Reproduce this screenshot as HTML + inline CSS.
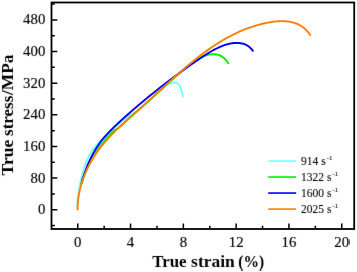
<!DOCTYPE html>
<html><head><meta charset="utf-8"><title>chart</title>
<style>html,body{margin:0;padding:0;background:#fff;overflow:hidden}body{width:357px;height:272px;position:relative;font-family:"Liberation Serif",serif}</style></head>
<body>
<svg width="357" height="272" viewBox="0 0 357 272" style="position:absolute;left:0;top:0">
<defs><filter id="bl" x="0" y="0" width="100%" height="100%" color-interpolation-filters="sRGB"><feConvolveMatrix order="3" kernelMatrix="0.0072 0.0847 0.0072 0.0847 1 0.0847 0.0072 0.0847 0.0072" divisor="1.3673" edgeMode="duplicate" preserveAlpha="false"/></filter></defs>
<rect width="357" height="272" fill="#fff"/>
<path d="M77.41 205.96 L77.43 205.57 L77.46 205.18 L77.48 204.79 L77.50 204.41 L77.52 204.02 L77.55 203.63 L77.57 203.25 L77.60 202.86 L77.63 202.47 L77.66 202.08 L77.68 201.70 L77.71 201.31 L77.74 200.92 L77.78 200.54 L77.81 200.15 L77.84 199.76 L77.88 199.37 L77.91 198.99 L77.95 198.60 L77.98 198.21 L78.02 197.83 L78.06 197.44 L78.10 197.06 L78.14 196.67 L78.18 196.28 L78.22 195.90 L78.26 195.51 L78.31 195.13 L78.35 194.74 L78.40 194.35 L78.44 193.97 L78.49 193.58 L78.54 193.20 L78.59 192.81 L78.64 192.43 L78.69 192.04 L78.74 191.66 L78.80 191.27 L78.85 190.89 L78.90 190.50 L78.96 190.12 L79.02 189.74 L79.08 189.35 L79.13 188.97 L79.19 188.59 L79.26 188.20 L79.32 187.82 L79.38 187.44 L79.45 187.05 L79.51 186.67 L79.58 186.29 L79.64 185.91 L79.71 185.52 L79.78 185.14 L79.85 184.76 L79.92 184.38 L79.99 184.00 L80.07 183.62 L80.14 183.24 L80.22 182.86 L80.30 182.48 L80.37 182.10 L80.45 181.72 L80.53 181.34 L80.61 180.96 L80.69 180.58 L80.78 180.20 L80.86 179.82 L80.95 179.44 L81.03 179.06 L81.12 178.69 L81.21 178.31 L81.30 177.93 L81.39 177.55 L81.48 177.18 L81.57 176.80 L81.67 176.42 L81.76 176.05 L81.86 175.67 L81.95 175.29 L82.05 174.92 L82.15 174.54 L82.25 174.17 L82.35 173.79 L82.46 173.42 L82.56 173.05 L82.66 172.67 L82.77 172.30 L82.88 171.93 L82.98 171.55 L83.09 171.18 L83.20 170.81 L83.32 170.43 L83.43 170.06 L83.54 169.69 L83.66 169.32 L83.77 168.95 L83.89 168.58 L84.01 168.21 L84.13 167.84 L84.25 167.47 L84.37 167.10 L84.49 166.73 L84.62 166.36 L84.74 166.00 L84.87 165.63 L85.00 165.26 L85.13 164.90 L85.26 164.53 L85.39 164.17 L85.53 163.80 L85.67 163.44 L85.81 163.08 L85.95 162.71 L86.09 162.35 L86.23 161.99 L86.38 161.63 L86.53 161.27 L86.68 160.92 L86.83 160.56 L86.98 160.20 L87.14 159.85 L87.29 159.49 L87.45 159.14 L87.62 158.79 L87.78 158.44 L87.95 158.09 L88.12 157.74 L88.29 157.39 L88.46 157.04 L88.64 156.70 L88.81 156.35 L88.99 156.01 L89.18 155.67 L89.36 155.32 L89.55 154.98 L89.74 154.65 L89.93 154.31 L90.12 153.97 L90.32 153.64 L90.52 153.30 L90.72 152.97 L90.92 152.64 L91.12 152.31 L91.33 151.98 L91.54 151.66 L91.75 151.33 L91.97 151.01 L92.18 150.68 L92.40 150.36 L92.62 150.04 L92.84 149.73 L93.07 149.41 L93.30 149.10 L93.52 148.78 L93.76 148.47 L93.99 148.16 L94.23 147.85 L94.46 147.55 L94.71 147.24 L94.95 146.94 L95.19 146.64 L95.44 146.34 L95.69 146.04 L95.94 145.75 L96.20 145.45 L96.45 145.16 L96.71 144.87 L96.97 144.58 L97.23 144.29 L97.49 144.01 L97.76 143.72 L98.03 143.44 L98.29 143.16 L98.56 142.88 L98.84 142.60 L99.11 142.32 L99.38 142.05 L99.66 141.77 L99.94 141.50 L100.21 141.23 L100.49 140.96 L100.77 140.69 L101.05 140.43 L101.34 140.16 L101.62 139.89 L101.90 139.63 L102.19 139.37 L102.47 139.10 L102.76 138.84 L103.04 138.58 L103.33 138.31 L103.61 138.05 L103.90 137.79 L104.18 137.53 L104.47 137.27 L104.76 137.00 L105.04 136.74 L105.33 136.48 L105.61 136.21 L105.89 135.95 L106.18 135.68 L106.46 135.42 L106.74 135.15 L107.03 134.89 L107.31 134.62 L107.59 134.36 L107.88 134.09 L108.16 133.83 L108.44 133.56 L108.72 133.29 L109.01 133.03 L109.29 132.76 L109.57 132.49 L109.85 132.23 L110.14 131.96 L110.42 131.69 L110.70 131.43 L110.98 131.16 L111.27 130.89 L111.55 130.63 L111.83 130.36 L112.12 130.09 L112.40 129.83 L112.68 129.56 L112.97 129.30 L113.25 129.03 L113.53 128.77 L113.82 128.50 L114.10 128.24 L114.39 127.97 L114.67 127.71 L114.96 127.45 L115.24 127.19 L115.53 126.92 L115.82 126.66 L116.10 126.40 L116.39 126.14 L116.68 125.88 L116.97 125.62 L117.26 125.36 L117.55 125.10 L117.83 124.84 L118.13 124.58 L118.42 124.33 L118.71 124.07 L119.00 123.82 L119.29 123.56 L119.58 123.31 L119.88 123.05 L120.17 122.80 L120.47 122.55 L120.76 122.30 L121.06 122.05 L121.36 121.80 L121.66 121.55 L121.95 121.30 L122.25 121.06 L122.55 120.81 L122.86 120.57 L123.16 120.32 L123.46 120.08 L123.76 119.84 L124.07 119.60 L124.37 119.36 L124.68 119.12 L124.99 118.89 L125.30 118.65 L125.61 118.42 L125.92 118.18 L126.23 117.95 L126.54 117.72 L126.85 117.49 L127.16 117.26 L127.48 117.03 L127.79 116.81 L128.11 116.58 L128.43 116.36 L128.75 116.14 L129.07 115.92 L129.39 115.70 L129.71 115.48 L130.03 115.26 L130.35 115.05 L130.68 114.83 L131.00 114.62 L131.33 114.40 L131.65 114.19 L131.98 113.98 L132.30 113.77 L132.63 113.56 L132.96 113.34 L133.28 113.13 L133.61 112.92 L133.93 112.71 L134.26 112.50 L134.58 112.28 L134.91 112.07 L135.23 111.86 L135.55 111.64 L135.88 111.42 L136.20 111.21 L136.52 110.99 L136.84 110.77 L137.15 110.55 L137.47 110.32 L137.79 110.10 L138.10 109.87 L138.41 109.64 L138.72 109.41 L139.03 109.18 L139.34 108.94 L139.65 108.70 L139.95 108.46 L140.25 108.22 L140.55 107.97 L140.85 107.72 L141.14 107.47 L141.44 107.22 L141.73 106.96 L142.02 106.71 L142.31 106.45 L142.60 106.19 L142.89 105.93 L143.18 105.67 L143.47 105.41 L143.75 105.15 L144.04 104.89 L144.33 104.63 L144.62 104.36 L144.90 104.10 L145.19 103.84 L145.48 103.58 L145.77 103.32 L146.06 103.06 L146.35 102.80 L146.63 102.54 L146.92 102.28 L147.21 102.03 L147.50 101.77 L147.79 101.51 L148.08 101.25 L148.37 100.99 L148.66 100.73 L148.95 100.47 L149.24 100.21 L149.52 99.96 L149.81 99.70 L150.10 99.44 L150.39 99.18 L150.68 98.92 L150.97 98.66 L151.26 98.40 L151.55 98.14 L151.83 97.88 L152.12 97.62 L152.41 97.36 L152.70 97.10 L152.98 96.84 L153.27 96.58 L153.56 96.31 L153.84 96.05 L154.13 95.79 L154.42 95.53 L154.70 95.26 L154.99 95.00 L155.27 94.74 L155.56 94.47 L155.84 94.21 L156.13 93.95 L156.42 93.68 L156.70 93.42 L156.99 93.16 L157.27 92.89 L157.56 92.63 L157.84 92.37 L158.13 92.11 L158.42 91.85 L158.71 91.59 L158.99 91.33 L159.28 91.07 L159.57 90.81 L159.86 90.55 L160.14 90.29 L160.43 90.03 L160.71 89.76 L161.00 89.50 L161.28 89.22 L161.56 88.95 L161.84 88.68 L162.12 88.40 L162.40 88.12 L162.69 87.85 L162.97 87.58 L163.26 87.31 L163.54 87.05 L163.84 86.79 L164.13 86.54 L164.43 86.30 L164.74 86.06 L165.04 85.84 L165.36 85.62 L165.68 85.42 L166.01 85.22 L166.34 85.03 L166.68 84.85 L167.02 84.67 L167.36 84.50 L167.71 84.33 L168.06 84.15 L168.41 83.98 L168.77 83.82 L169.13 83.66 L169.49 83.51 L169.86 83.36 L170.22 83.22 L170.59 83.09 L170.97 82.97 L171.34 82.86 L171.72 82.76 L172.09 82.68 L172.48 82.61 L172.86 82.56 L173.24 82.52 L173.63 82.50 L174.01 82.50 L174.40 82.52 L174.79 82.56 L175.17 82.61 L175.55 82.69 L175.92 82.79 L176.29 82.91 L176.65 83.05 L176.99 83.21 L177.33 83.39 L177.65 83.60 L177.96 83.83 L178.25 84.08 L178.52 84.35 L178.78 84.65 L179.02 84.96 L179.25 85.29 L179.47 85.63 L179.67 85.97 L179.86 86.32 L180.05 86.68 L180.22 87.03 L180.38 87.38 L180.54 87.73 L180.69 88.06 L180.83 88.40 L180.97 88.73 L181.11 89.07 L181.24 89.42 L181.37 89.79 L181.50 90.19 L181.63 90.61 L181.75 91.08 L181.88 91.58 L182.01 92.11 L182.13 92.66 L182.25 93.21 L182.36 93.76 L182.46 94.29 L182.56 94.79 L182.65 95.26 L182.73 95.68 L182.79 96.04 L182.84 96.32 L182.88 96.53 L182.90 96.64 L182.90 96.65 L182.88 96.55 L182.84 96.33 L182.79 96.00 L182.71 95.60 L182.63 95.12 L182.53 94.61 L182.44 94.10 L182.34 93.60 L182.26 93.16 L182.19 92.80 L182.14 92.54 L182.12 92.43 L182.14 92.49 L182.19 92.75 L182.29 93.24 L182.45 93.99" fill="none" stroke="#74ffff" stroke-width="1.9" stroke-linecap="butt" stroke-linejoin="round"/>
<path d="M81.40 183.65 L81.53 183.20 L81.67 182.74 L81.80 182.29 L81.94 181.84 L82.08 181.39 L82.22 180.94 L82.36 180.48 L82.51 180.04 L82.65 179.59 L82.80 179.14 L82.95 178.69 L83.11 178.24 L83.26 177.80 L83.42 177.35 L83.58 176.90 L83.74 176.46 L83.90 176.02 L84.06 175.57 L84.23 175.13 L84.40 174.69 L84.57 174.25 L84.74 173.81 L84.91 173.37 L85.09 172.93 L85.26 172.49 L85.44 172.05 L85.62 171.61 L85.81 171.18 L85.99 170.74 L86.18 170.31 L86.37 169.87 L86.56 169.44 L86.75 169.01 L86.94 168.58 L87.14 168.14 L87.33 167.71 L87.53 167.29 L87.73 166.86 L87.94 166.43 L88.14 166.00 L88.35 165.58 L88.55 165.15 L88.76 164.73 L88.98 164.30 L89.19 163.88 L89.40 163.46 L89.62 163.04 L89.84 162.62 L90.06 162.20 L90.28 161.78 L90.50 161.36 L90.73 160.95 L90.95 160.53 L91.18 160.12 L91.41 159.70 L91.64 159.29 L91.87 158.88 L92.11 158.47 L92.34 158.06 L92.58 157.65 L92.82 157.24 L93.06 156.84 L93.30 156.43 L93.55 156.02 L93.79 155.62 L94.04 155.22 L94.29 154.82 L94.54 154.41 L94.79 154.01 L95.04 153.62 L95.30 153.22 L95.56 152.82 L95.81 152.43 L96.07 152.03 L96.33 151.64 L96.60 151.24 L96.86 150.85 L97.13 150.46 L97.39 150.07 L97.66 149.69 L97.93 149.30 L98.20 148.91 L98.48 148.53 L98.75 148.14 L99.02 147.76 L99.30 147.38 L99.58 147.00 L99.86 146.62 L100.14 146.24 L100.42 145.87 L100.71 145.49 L100.99 145.11 L101.28 144.74 L101.57 144.37 L101.86 143.99 L102.15 143.62 L102.44 143.25 L102.74 142.88 L103.03 142.52 L103.33 142.15 L103.62 141.78 L103.92 141.42 L104.22 141.05 L104.53 140.69 L104.83 140.32 L105.13 139.96 L105.44 139.60 L105.74 139.24 L106.05 138.88 L106.36 138.52 L106.67 138.16 L106.98 137.81 L107.30 137.45 L107.61 137.09 L107.93 136.74 L108.24 136.39 L108.56 136.03 L108.88 135.68 L109.20 135.33 L109.53 134.99 L109.85 134.64 L110.18 134.30 L110.50 133.96 L110.83 133.62 L111.17 133.29 L111.50 132.95 L111.84 132.63 L112.17 132.30 L112.52 131.98 L112.87 131.67 L113.22 131.37 L113.60 131.09 L113.98 130.81 L114.37 130.55 L114.77 130.30 L115.17 130.05 L115.58 129.81 L115.99 129.57 L116.40 129.33 L116.80 129.09 L117.21 128.85 L117.61 128.60 L118.01 128.34 L118.39 128.07 L118.77 127.79 L119.14 127.49 L119.49 127.18 L119.85 126.87 L120.20 126.56 L120.55 126.24 L120.90 125.93 L121.25 125.61 L121.60 125.30 L121.95 124.98 L122.30 124.66 L122.65 124.34 L123.00 124.02 L123.35 123.70 L123.69 123.38 L124.04 123.06 L124.39 122.74 L124.73 122.42 L125.08 122.10 L125.43 121.78 L125.78 121.46 L126.13 121.14 L126.47 120.82 L126.82 120.50 L127.17 120.18 L127.52 119.86 L127.87 119.55 L128.22 119.23 L128.58 118.91 L128.93 118.60 L129.28 118.28 L129.63 117.97 L129.98 117.65 L130.34 117.34 L130.69 117.02 L131.04 116.71 L131.40 116.40 L131.75 116.08 L132.11 115.77 L132.46 115.46 L132.82 115.15 L133.17 114.84 L133.53 114.52 L133.88 114.21 L134.24 113.90 L134.59 113.59 L134.95 113.28 L135.30 112.97 L135.66 112.65 L136.01 112.34 L136.37 112.03 L136.73 111.72 L137.08 111.41 L137.44 111.10 L137.79 110.79 L138.15 110.48 L138.50 110.17 L138.86 109.85 L139.22 109.54 L139.57 109.23 L139.93 108.92 L140.28 108.61 L140.64 108.29 L140.99 107.98 L141.34 107.67 L141.70 107.36 L142.05 107.04 L142.41 106.73 L142.76 106.42 L143.11 106.10 L143.47 105.79 L143.82 105.47 L144.17 105.16 L144.52 104.85 L144.88 104.53 L145.23 104.22 L145.58 103.90 L145.93 103.59 L146.29 103.27 L146.64 102.96 L146.99 102.64 L147.34 102.32 L147.69 102.01 L148.04 101.69 L148.39 101.38 L148.75 101.06 L149.10 100.74 L149.45 100.43 L149.80 100.11 L150.15 99.79 L150.50 99.48 L150.85 99.16 L151.20 98.84 L151.55 98.52 L151.90 98.21 L152.25 97.89 L152.60 97.57 L152.95 97.25 L153.30 96.94 L153.65 96.62 L154.00 96.30 L154.35 95.98 L154.70 95.66 L155.05 95.34 L155.40 95.03 L155.74 94.71 L156.09 94.39 L156.44 94.07 L156.79 93.75 L157.14 93.43 L157.49 93.11 L157.84 92.80 L158.19 92.48 L158.54 92.16 L158.88 91.84 L159.23 91.52 L159.58 91.20 L159.93 90.88 L160.28 90.56 L160.63 90.24 L160.98 89.92 L161.32 89.60 L161.67 89.28 L162.02 88.97 L162.37 88.65 L162.72 88.33 L163.07 88.01 L163.41 87.69 L163.76 87.37 L164.11 87.05 L164.46 86.73 L164.81 86.41 L165.16 86.09 L165.50 85.77 L165.85 85.45 L166.20 85.13 L166.55 84.81 L166.90 84.50 L167.25 84.18 L167.60 83.86 L167.94 83.54 L168.29 83.22 L168.64 82.90 L168.99 82.58 L169.34 82.26 L169.69 81.94 L170.04 81.62 L170.39 81.31 L170.74 80.99 L171.08 80.67 L171.43 80.35 L171.78 80.03 L172.13 79.71 L172.48 79.40 L172.83 79.08 L173.18 78.76 L173.53 78.45 L173.89 78.13 L174.24 77.81 L174.59 77.50 L174.94 77.18 L175.29 76.87 L175.64 76.55 L176.00 76.24 L176.35 75.92 L176.70 75.61 L177.06 75.30 L177.41 74.98 L177.76 74.67 L178.12 74.36 L178.48 74.05 L178.83 73.74 L179.19 73.43 L179.54 73.12 L179.90 72.81 L180.26 72.50 L180.62 72.19 L180.98 71.88 L181.34 71.58 L181.70 71.27 L182.06 70.97 L182.42 70.66 L182.78 70.36 L183.14 70.05 L183.51 69.75 L183.87 69.45 L184.23 69.15 L184.60 68.85 L184.97 68.55 L185.33 68.25 L185.70 67.95 L186.07 67.66 L186.44 67.36 L186.81 67.07 L187.18 66.78 L187.55 66.48 L187.92 66.19 L188.30 65.90 L188.67 65.62 L189.05 65.33 L189.42 65.04 L189.80 64.76 L190.18 64.48 L190.56 64.20 L190.94 63.92 L191.32 63.64 L191.70 63.36 L192.09 63.09 L192.47 62.81 L192.86 62.54 L193.25 62.27 L193.64 62.00 L194.03 61.74 L194.42 61.47 L194.81 61.21 L195.21 60.95 L195.60 60.69 L196.00 60.43 L196.40 60.18 L196.80 59.92 L197.20 59.67 L197.60 59.42 L198.00 59.18 L198.41 58.94 L198.82 58.70 L199.23 58.46 L199.64 58.23 L200.05 58.00 L200.46 57.77 L200.88 57.55 L201.30 57.33 L201.72 57.12 L202.15 56.91 L202.57 56.71 L203.00 56.52 L203.43 56.33 L203.86 56.14 L204.30 55.96 L204.74 55.79 L205.18 55.63 L205.62 55.47 L206.07 55.32 L206.52 55.18 L206.97 55.04 L207.43 54.92 L207.89 54.80 L208.35 54.69 L208.81 54.59 L209.28 54.49 L209.75 54.41 L210.22 54.34 L210.69 54.27 L211.17 54.22 L211.64 54.18 L212.12 54.14 L212.59 54.12 L213.07 54.11 L213.54 54.11 L214.02 54.12 L214.49 54.15 L214.96 54.19 L215.43 54.23 L215.89 54.30 L216.36 54.37 L216.82 54.46 L217.27 54.56 L217.73 54.67 L218.18 54.80 L218.62 54.95 L219.06 55.11 L219.50 55.28 L219.93 55.47 L220.35 55.67 L220.77 55.88 L221.18 56.11 L221.59 56.35 L221.99 56.60 L222.38 56.86 L222.77 57.14 L223.15 57.42 L223.53 57.72 L223.89 58.02 L224.25 58.34 L224.60 58.66 L224.95 59.00 L225.28 59.34 L225.61 59.68 L225.93 60.04 L226.24 60.40 L226.54 60.77 L226.83 61.14 L227.11 61.52 L227.38 61.91 L227.65 62.30 L227.90 62.69 L228.14 63.09 L228.38 63.48 L228.60 63.89" fill="none" stroke="#00f200" stroke-width="1.9" stroke-linecap="butt" stroke-linejoin="round"/>
<path d="M81.42 183.67 L81.55 183.17 L81.69 182.66 L81.84 182.15 L81.98 181.65 L82.12 181.14 L82.27 180.63 L82.42 180.13 L82.57 179.62 L82.72 179.12 L82.87 178.62 L83.03 178.11 L83.18 177.61 L83.34 177.11 L83.50 176.60 L83.66 176.10 L83.82 175.60 L83.99 175.10 L84.15 174.60 L84.32 174.09 L84.49 173.59 L84.66 173.09 L84.83 172.59 L85.01 172.10 L85.19 171.60 L85.36 171.10 L85.54 170.60 L85.73 170.11 L85.91 169.61 L86.09 169.11 L86.28 168.62 L86.47 168.13 L86.66 167.63 L86.85 167.14 L87.05 166.65 L87.24 166.16 L87.44 165.67 L87.64 165.18 L87.84 164.69 L88.05 164.20 L88.26 163.71 L88.46 163.23 L88.67 162.74 L88.89 162.26 L89.10 161.77 L89.32 161.29 L89.53 160.81 L89.75 160.33 L89.98 159.85 L90.20 159.37 L90.43 158.89 L90.66 158.42 L90.89 157.94 L91.12 157.47 L91.35 156.99 L91.59 156.52 L91.83 156.05 L92.07 155.58 L92.32 155.11 L92.56 154.65 L92.81 154.18 L93.06 153.72 L93.31 153.26 L93.57 152.79 L93.82 152.33 L94.08 151.87 L94.35 151.42 L94.61 150.96 L94.88 150.51 L95.14 150.05 L95.42 149.60 L95.69 149.15 L95.97 148.70 L96.24 148.26 L96.52 147.81 L96.81 147.37 L97.09 146.93 L97.38 146.49 L97.67 146.05 L97.96 145.61 L98.26 145.18 L98.56 144.74 L98.86 144.31 L99.16 143.88 L99.47 143.45 L99.78 143.02 L100.09 142.60 L100.40 142.18 L100.72 141.76 L101.03 141.34 L101.36 140.92 L101.68 140.50 L102.01 140.09 L102.33 139.68 L102.66 139.27 L103.00 138.86 L103.33 138.45 L103.67 138.05 L104.01 137.65 L104.35 137.24 L104.70 136.84 L105.04 136.45 L105.39 136.05 L105.74 135.65 L106.09 135.26 L106.44 134.87 L106.80 134.48 L107.16 134.09 L107.52 133.70 L107.88 133.31 L108.24 132.92 L108.60 132.54 L108.96 132.16 L109.33 131.77 L109.70 131.39 L110.07 131.01 L110.44 130.64 L110.81 130.26 L111.18 129.88 L111.55 129.51 L111.93 129.13 L112.30 128.76 L112.68 128.39 L113.05 128.02 L113.43 127.65 L113.81 127.28 L114.19 126.91 L114.57 126.54 L114.95 126.17 L115.33 125.81 L115.71 125.44 L116.09 125.08 L116.48 124.72 L116.86 124.35 L117.25 123.99 L117.63 123.63 L118.02 123.27 L118.40 122.91 L118.79 122.55 L119.18 122.19 L119.56 121.83 L119.95 121.47 L120.34 121.12 L120.73 120.76 L121.12 120.41 L121.51 120.05 L121.90 119.70 L122.29 119.34 L122.68 118.99 L123.07 118.64 L123.47 118.28 L123.86 117.93 L124.25 117.58 L124.65 117.23 L125.04 116.88 L125.43 116.53 L125.83 116.18 L126.22 115.83 L126.62 115.48 L127.01 115.13 L127.41 114.78 L127.80 114.43 L128.20 114.08 L128.59 113.73 L128.99 113.38 L129.39 113.04 L129.78 112.69 L130.18 112.34 L130.58 112.00 L130.98 111.65 L131.37 111.30 L131.77 110.96 L132.17 110.61 L132.57 110.27 L132.97 109.92 L133.37 109.58 L133.77 109.23 L134.17 108.89 L134.57 108.55 L134.97 108.20 L135.37 107.86 L135.77 107.52 L136.17 107.17 L136.57 106.83 L136.97 106.49 L137.37 106.15 L137.78 105.80 L138.18 105.46 L138.58 105.12 L138.98 104.78 L139.39 104.44 L139.79 104.10 L140.19 103.76 L140.60 103.42 L141.00 103.08 L141.40 102.74 L141.81 102.41 L142.21 102.07 L142.62 101.73 L143.02 101.39 L143.43 101.05 L143.84 100.72 L144.24 100.38 L144.65 100.04 L145.05 99.71 L145.46 99.37 L145.87 99.03 L146.27 98.70 L146.68 98.36 L147.09 98.03 L147.50 97.69 L147.91 97.36 L148.31 97.03 L148.72 96.69 L149.13 96.36 L149.54 96.03 L149.95 95.69 L150.36 95.36 L150.77 95.03 L151.18 94.70 L151.59 94.36 L152.00 94.03 L152.41 93.70 L152.82 93.37 L153.23 93.04 L153.64 92.71 L154.06 92.38 L154.47 92.05 L154.88 91.72 L155.29 91.39 L155.71 91.06 L156.12 90.74 L156.53 90.41 L156.95 90.08 L157.36 89.75 L157.77 89.42 L158.19 89.10 L158.60 88.77 L159.02 88.44 L159.43 88.12 L159.85 87.79 L160.26 87.47 L160.68 87.14 L161.09 86.82 L161.51 86.49 L161.92 86.17 L162.34 85.84 L162.76 85.52 L163.17 85.20 L163.59 84.87 L164.01 84.55 L164.43 84.23 L164.84 83.90 L165.26 83.58 L165.68 83.26 L166.10 82.94 L166.52 82.62 L166.94 82.30 L167.36 81.98 L167.78 81.66 L168.20 81.34 L168.61 81.02 L169.04 80.70 L169.46 80.38 L169.88 80.06 L170.30 79.74 L170.72 79.42 L171.14 79.10 L171.56 78.79 L171.98 78.47 L172.40 78.15 L172.83 77.83 L173.25 77.52 L173.67 77.20 L174.09 76.89 L174.52 76.57 L174.94 76.26 L175.36 75.94 L175.79 75.63 L176.21 75.31 L176.64 75.00 L177.06 74.68 L177.48 74.37 L177.91 74.06 L178.33 73.74 L178.76 73.43 L179.19 73.12 L179.61 72.81 L180.04 72.49 L180.46 72.18 L180.89 71.87 L181.32 71.56 L181.74 71.25 L182.17 70.94 L182.60 70.63 L183.03 70.32 L183.45 70.01 L183.88 69.70 L184.31 69.39 L184.74 69.08 L185.17 68.78 L185.59 68.47 L186.02 68.16 L186.45 67.85 L186.88 67.54 L187.31 67.24 L187.74 66.93 L188.17 66.63 L188.60 66.32 L189.03 66.01 L189.46 65.71 L189.89 65.40 L190.33 65.10 L190.76 64.80 L191.19 64.49 L191.62 64.19 L192.05 63.89 L192.49 63.58 L192.92 63.28 L193.35 62.98 L193.79 62.68 L194.22 62.38 L194.65 62.08 L195.09 61.78 L195.52 61.48 L195.96 61.18 L196.39 60.88 L196.83 60.59 L197.27 60.29 L197.70 59.99 L198.14 59.70 L198.58 59.40 L199.01 59.11 L199.45 58.82 L199.89 58.52 L200.33 58.23 L200.77 57.94 L201.21 57.65 L201.65 57.36 L202.09 57.07 L202.53 56.78 L202.97 56.49 L203.41 56.20 L203.86 55.92 L204.30 55.63 L204.74 55.35 L205.19 55.06 L205.63 54.78 L206.07 54.50 L206.52 54.22 L206.97 53.94 L207.41 53.66 L207.86 53.38 L208.31 53.11 L208.76 52.84 L209.21 52.56 L209.66 52.29 L210.11 52.02 L210.57 51.76 L211.02 51.49 L211.48 51.23 L211.94 50.97 L212.39 50.71 L212.85 50.45 L213.32 50.20 L213.78 49.95 L214.24 49.70 L214.71 49.45 L215.18 49.21 L215.64 48.97 L216.11 48.73 L216.59 48.49 L217.06 48.26 L217.54 48.03 L218.01 47.80 L218.49 47.58 L218.97 47.36 L219.46 47.14 L219.94 46.92 L220.43 46.71 L220.92 46.51 L221.41 46.30 L221.90 46.11 L222.40 45.91 L222.89 45.72 L223.39 45.53 L223.89 45.35 L224.39 45.18 L224.89 45.01 L225.40 44.84 L225.90 44.68 L226.41 44.53 L226.92 44.38 L227.43 44.24 L227.94 44.10 L228.45 43.97 L228.97 43.85 L229.48 43.73 L230.00 43.62 L230.51 43.52 L231.03 43.43 L231.55 43.34 L232.07 43.26 L232.59 43.19 L233.11 43.12 L233.63 43.07 L234.15 43.02 L234.68 42.98 L235.20 42.95 L235.72 42.93 L236.25 42.92 L236.77 42.92 L237.30 42.93 L237.82 42.94 L238.35 42.97 L238.88 43.01 L239.40 43.06 L239.93 43.12 L240.45 43.19 L240.97 43.27 L241.49 43.36 L242.01 43.47 L242.52 43.59 L243.03 43.72 L243.54 43.86 L244.04 44.02 L244.54 44.19 L245.03 44.38 L245.51 44.58 L245.99 44.80 L246.46 45.04 L246.92 45.29 L247.38 45.55 L247.82 45.84 L248.26 46.14 L248.68 46.45 L249.10 46.78 L249.51 47.12 L249.91 47.47 L250.30 47.84 L250.68 48.22 L251.05 48.60 L251.40 49.00 L251.75 49.40 L252.09 49.81 L252.41 50.23 L252.73 50.65 L253.03 51.08 L253.32 51.51" fill="none" stroke="#0000ff" stroke-width="1.9" stroke-linecap="butt" stroke-linejoin="round"/>
<path d="M77.52 210.21 L77.52 209.56 L77.52 208.91 L77.53 208.26 L77.54 207.61 L77.56 206.96 L77.58 206.31 L77.61 205.66 L77.65 205.00 L77.69 204.35 L77.73 203.70 L77.78 203.05 L77.83 202.40 L77.89 201.75 L77.96 201.10 L78.03 200.45 L78.10 199.80 L78.18 199.14 L78.27 198.49 L78.36 197.84 L78.45 197.19 L78.55 196.54 L78.66 195.89 L78.77 195.25 L78.88 194.60 L79.00 193.95 L79.12 193.30 L79.25 192.65 L79.38 192.01 L79.52 191.36 L79.66 190.72 L79.81 190.07 L79.96 189.43 L80.12 188.79 L80.28 188.14 L80.44 187.50 L80.61 186.86 L80.78 186.22 L80.96 185.58 L81.14 184.95 L81.33 184.31 L81.52 183.67 L81.71 183.04 L81.91 182.40 L82.11 181.77 L82.32 181.14 L82.53 180.51 L82.75 179.88 L82.96 179.26 L83.19 178.63 L83.41 178.00 L83.65 177.38 L83.88 176.76 L84.12 176.14 L84.36 175.52 L84.61 174.90 L84.86 174.29 L85.11 173.67 L85.37 173.06 L85.63 172.45 L85.90 171.84 L86.16 171.23 L86.44 170.63 L86.71 170.02 L86.99 169.42 L87.27 168.82 L87.56 168.23 L87.85 167.63 L88.14 167.04 L88.44 166.44 L88.74 165.85 L89.04 165.27 L89.35 164.68 L89.66 164.10 L89.97 163.52 L90.28 162.94 L90.60 162.36 L90.93 161.79 L91.25 161.22 L91.58 160.65 L91.91 160.08 L92.24 159.52 L92.58 158.96 L92.92 158.40 L93.27 157.84 L93.61 157.29 L93.96 156.74 L94.31 156.19 L94.67 155.64 L95.02 155.10 L95.38 154.55 L95.75 154.02 L96.11 153.48 L96.48 152.94 L96.85 152.41 L97.22 151.88 L97.60 151.36 L97.98 150.83 L98.36 150.31 L98.74 149.79 L99.13 149.27 L99.51 148.75 L99.90 148.24 L100.30 147.73 L100.69 147.21 L101.09 146.71 L101.49 146.20 L101.89 145.70 L102.30 145.19 L102.70 144.69 L103.11 144.20 L103.52 143.70 L103.94 143.20 L104.35 142.71 L104.77 142.22 L105.19 141.73 L105.61 141.24 L106.03 140.76 L106.46 140.27 L106.88 139.79 L107.31 139.31 L107.74 138.83 L108.18 138.35 L108.61 137.87 L109.05 137.40 L109.49 136.93 L109.93 136.45 L110.37 135.98 L110.81 135.52 L111.26 135.05 L111.70 134.58 L112.15 134.12 L112.60 133.65 L113.05 133.19 L113.51 132.73 L113.96 132.27 L114.42 131.81 L114.88 131.35 L115.33 130.90 L115.79 130.44 L116.26 129.99 L116.72 129.53 L117.18 129.08 L117.65 128.63 L118.12 128.18 L118.58 127.73 L119.05 127.28 L119.52 126.83 L120.00 126.39 L120.47 125.94 L120.94 125.49 L121.42 125.05 L121.89 124.61 L122.37 124.16 L122.85 123.72 L123.33 123.28 L123.81 122.84 L124.29 122.40 L124.77 121.96 L125.25 121.52 L125.73 121.08 L126.22 120.64 L126.70 120.20 L127.19 119.77 L127.67 119.33 L128.16 118.89 L128.65 118.46 L129.14 118.02 L129.63 117.59 L130.12 117.15 L130.61 116.72 L131.10 116.28 L131.59 115.85 L132.08 115.41 L132.57 114.98 L133.06 114.54 L133.55 114.11 L134.05 113.68 L134.54 113.24 L135.03 112.81 L135.53 112.37 L136.02 111.94 L136.52 111.51 L137.01 111.07 L137.51 110.64 L138.00 110.20 L138.50 109.77 L138.99 109.33 L139.49 108.90 L139.98 108.46 L140.48 108.03 L140.97 107.59 L141.47 107.16 L141.96 106.72 L142.46 106.28 L142.95 105.84 L143.44 105.41 L143.94 104.97 L144.43 104.53 L144.93 104.09 L145.42 103.65 L145.91 103.21 L146.41 102.77 L146.90 102.33 L147.39 101.88 L147.88 101.44 L148.38 101.00 L148.87 100.56 L149.36 100.11 L149.85 99.67 L150.34 99.22 L150.83 98.78 L151.33 98.33 L151.82 97.89 L152.31 97.44 L152.80 96.99 L153.29 96.55 L153.78 96.10 L154.27 95.65 L154.76 95.21 L155.25 94.76 L155.74 94.31 L156.23 93.86 L156.72 93.41 L157.21 92.97 L157.70 92.52 L158.19 92.07 L158.68 91.62 L159.17 91.17 L159.66 90.72 L160.15 90.27 L160.64 89.82 L161.13 89.37 L161.61 88.93 L162.10 88.48 L162.59 88.03 L163.08 87.58 L163.57 87.13 L164.06 86.68 L164.55 86.23 L165.04 85.78 L165.53 85.34 L166.02 84.89 L166.51 84.44 L167.01 83.99 L167.50 83.54 L167.99 83.10 L168.48 82.65 L168.97 82.20 L169.46 81.75 L169.95 81.31 L170.44 80.86 L170.94 80.42 L171.43 79.97 L171.92 79.53 L172.41 79.08 L172.91 78.64 L173.40 78.19 L173.89 77.75 L174.39 77.31 L174.88 76.86 L175.37 76.42 L175.87 75.98 L176.36 75.54 L176.86 75.10 L177.35 74.66 L177.85 74.22 L178.34 73.78 L178.84 73.34 L179.34 72.90 L179.83 72.46 L180.33 72.03 L180.83 71.59 L181.33 71.16 L181.83 70.72 L182.32 70.29 L182.82 69.85 L183.32 69.42 L183.82 68.99 L184.33 68.56 L184.83 68.13 L185.33 67.70 L185.83 67.27 L186.33 66.84 L186.84 66.42 L187.34 65.99 L187.84 65.56 L188.35 65.14 L188.85 64.72 L189.36 64.29 L189.86 63.87 L190.37 63.45 L190.88 63.03 L191.39 62.61 L191.89 62.20 L192.40 61.78 L192.91 61.37 L193.42 60.95 L193.93 60.54 L194.45 60.13 L194.96 59.72 L195.47 59.31 L195.98 58.90 L196.50 58.49 L197.01 58.08 L197.53 57.68 L198.04 57.27 L198.56 56.87 L199.08 56.47 L199.60 56.07 L200.12 55.67 L200.64 55.27 L201.16 54.88 L201.68 54.48 L202.20 54.09 L202.72 53.70 L203.24 53.31 L203.77 52.92 L204.29 52.53 L204.82 52.14 L205.35 51.76 L205.87 51.38 L206.40 50.99 L206.93 50.61 L207.46 50.23 L207.99 49.86 L208.52 49.48 L209.06 49.11 L209.59 48.73 L210.12 48.36 L210.66 47.99 L211.20 47.63 L211.73 47.26 L212.27 46.90 L212.81 46.53 L213.35 46.17 L213.89 45.81 L214.43 45.45 L214.98 45.10 L215.52 44.75 L216.06 44.39 L216.61 44.04 L217.16 43.69 L217.70 43.35 L218.25 43.00 L218.80 42.66 L219.35 42.32 L219.91 41.98 L220.46 41.64 L221.01 41.31 L221.57 40.97 L222.13 40.64 L222.68 40.31 L223.24 39.99 L223.80 39.66 L224.36 39.34 L224.92 39.02 L225.49 38.70 L226.05 38.38 L226.62 38.07 L227.18 37.75 L227.75 37.44 L228.32 37.13 L228.89 36.83 L229.46 36.52 L230.04 36.22 L230.61 35.92 L231.18 35.63 L231.76 35.33 L232.34 35.04 L232.92 34.75 L233.50 34.46 L234.08 34.17 L234.66 33.89 L235.25 33.61 L235.83 33.33 L236.42 33.05 L237.01 32.78 L237.59 32.51 L238.19 32.24 L238.78 31.97 L239.37 31.71 L239.97 31.45 L240.56 31.19 L241.16 30.93 L241.76 30.68 L242.36 30.43 L242.96 30.18 L243.56 29.93 L244.17 29.69 L244.77 29.45 L245.38 29.21 L245.99 28.98 L246.60 28.74 L247.21 28.51 L247.83 28.28 L248.44 28.06 L249.06 27.84 L249.68 27.62 L250.30 27.40 L250.92 27.19 L251.54 26.98 L252.16 26.77 L252.79 26.57 L253.42 26.36 L254.05 26.16 L254.68 25.97 L255.31 25.78 L255.94 25.58 L256.58 25.40 L257.22 25.21 L257.85 25.03 L258.49 24.85 L259.14 24.68 L259.78 24.50 L260.43 24.34 L261.07 24.17 L261.72 24.01 L262.37 23.85 L263.02 23.69 L263.68 23.53 L264.33 23.38 L264.99 23.24 L265.65 23.09 L266.31 22.95 L266.97 22.82 L267.63 22.68 L268.29 22.56 L268.96 22.43 L269.62 22.31 L270.29 22.20 L270.96 22.09 L271.62 21.98 L272.29 21.89 L272.96 21.79 L273.62 21.70 L274.29 21.62 L274.96 21.54 L275.62 21.47 L276.29 21.41 L276.95 21.35 L277.62 21.30 L278.28 21.26 L278.94 21.22 L279.60 21.19 L280.26 21.17 L280.92 21.15 L281.58 21.14 L282.23 21.14 L282.89 21.15 L283.54 21.17 L284.19 21.19 L284.84 21.23 L285.48 21.27 L286.13 21.32 L286.77 21.38 L287.41 21.45 L288.04 21.53 L288.67 21.62 L289.30 21.72 L289.93 21.82 L290.55 21.94 L291.17 22.07 L291.79 22.21 L292.40 22.36 L293.01 22.52 L293.62 22.69 L294.22 22.87 L294.81 23.07 L295.41 23.27 L296.00 23.49 L296.58 23.72 L297.16 23.96 L297.74 24.21 L298.31 24.48 L298.87 24.76 L299.43 25.05 L299.99 25.35 L300.53 25.67 L301.08 26.00 L301.62 26.34 L302.15 26.70 L302.68 27.07 L303.20 27.45 L303.71 27.85 L304.22 28.27 L304.72 28.69 L305.22 29.14 L305.71 29.59 L306.19 30.07 L306.67 30.55 L307.14 31.06 L307.60 31.58 L308.05 32.11 L308.50 32.66 L308.94 33.22 L309.37 33.81 L309.80 34.41 L310.21 35.02 L310.62 35.65" fill="none" stroke="#ff8000" stroke-width="1.9" stroke-linecap="butt" stroke-linejoin="round"/>
<rect x="51.5" y="2.5" width="302.7" height="226.5" fill="none" stroke="#000" stroke-width="1.8"/>
<path d="M77.75 229.00 V223.50 M104.15 229.00 V225.70 M130.55 229.00 V223.50 M156.95 229.00 V225.70 M183.35 229.00 V223.50 M209.75 229.00 V225.70 M236.15 229.00 V223.50 M262.55 229.00 V225.70 M288.95 229.00 V223.50 M315.35 229.00 V225.70 M341.75 229.00 V223.50 M51.50 225.57 H54.80 M51.50 209.75 H57.30 M51.50 193.93 H54.80 M51.50 178.11 H57.30 M51.50 162.29 H54.80 M51.50 146.47 H57.30 M51.50 130.65 H54.80 M51.50 114.83 H57.30 M51.50 99.00 H54.80 M51.50 83.18 H57.30 M51.50 67.36 H54.80 M51.50 51.54 H57.30 M51.50 35.72 H54.80 M51.50 19.90 H57.30 M51.50 4.08 H54.80" stroke="#000" stroke-width="1.5" fill="none"/>
<path d="M268.2 161.00 H296.2" stroke="#74ffff" stroke-width="1.6"/>
<path d="M268.2 177.03 H296.2" stroke="#00f200" stroke-width="1.6"/>
<path d="M268.2 193.06 H296.2" stroke="#0000ff" stroke-width="1.6"/>
<path d="M268.2 209.09 H296.2" stroke="#ff8000" stroke-width="1.6"/>
<g style="filter:grayscale(1)"><g filter="url(#bl)">
<g font-family="Liberation Serif, serif" font-size="14.8" fill="#000" stroke="#000" stroke-width="0.15">
<text x="77.75" y="246.8" text-anchor="middle">0</text>
<text x="130.55" y="246.8" text-anchor="middle">4</text>
<text x="183.35" y="246.8" text-anchor="middle">8</text>
<text x="236.15" y="246.8" text-anchor="middle">12</text>
<text x="288.95" y="246.8" text-anchor="middle">16</text>
<text x="341.75" y="246.8" text-anchor="middle">20</text>
<text x="45.3" y="214.30" text-anchor="end">0</text>
<text x="45.3" y="182.66" text-anchor="end">80</text>
<text x="45.3" y="151.02" text-anchor="end">160</text>
<text x="45.3" y="119.38" text-anchor="end">240</text>
<text x="45.3" y="87.73" text-anchor="end">320</text>
<text x="45.3" y="56.09" text-anchor="end">400</text>
<text x="45.3" y="24.45" text-anchor="end">480</text>
</g>
<g font-family="Liberation Serif, serif" font-weight="bold" font-size="15.8">
<text x="152.2" y="266.7" textLength="34.3" lengthAdjust="spacingAndGlyphs">True</text>
<text x="191.1" y="266.7" textLength="43.6" lengthAdjust="spacingAndGlyphs">strain</text>
<text x="238.3" y="266.7" textLength="25.8" lengthAdjust="spacingAndGlyphs">(%)</text>
<text transform="translate(13,175.5) rotate(-90)" textLength="35.8" lengthAdjust="spacingAndGlyphs">True</text>
<text transform="translate(13,135.9) rotate(-90)" textLength="40.2" lengthAdjust="spacingAndGlyphs">stress</text>
<text transform="translate(13,95.0) rotate(-90)" textLength="40.5" lengthAdjust="spacingAndGlyphs">/MPa</text>
</g>
<text x="301" y="165.30" font-family="Liberation Serif, serif" font-size="11.5" fill="#000" stroke="#000" stroke-width="0.1">914 s<tspan dx="1.1" dy="-5.1" font-size="6.8">-1</tspan></text>
<text x="301" y="181.33" font-family="Liberation Serif, serif" font-size="11.5" fill="#000" stroke="#000" stroke-width="0.1">1322 s<tspan dx="1.1" dy="-5.1" font-size="6.8">-1</tspan></text>
<text x="301" y="197.36" font-family="Liberation Serif, serif" font-size="11.5" fill="#000" stroke="#000" stroke-width="0.1">1600 s<tspan dx="1.1" dy="-5.1" font-size="6.8">-1</tspan></text>
<text x="301" y="213.39" font-family="Liberation Serif, serif" font-size="11.5" fill="#000" stroke="#000" stroke-width="0.1">2025 s<tspan dx="1.1" dy="-5.1" font-size="6.8">-1</tspan></text>
</g></g>
</svg>
</body></html>
